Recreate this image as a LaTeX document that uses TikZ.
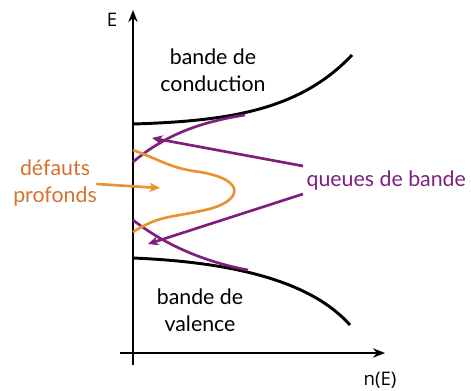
\documentclass[tikz,border=0pt]{standalone}
\usepackage{fontspec}
\setmainfont{Lato}
\newfontfamily\axefont{Open Sans}
\usetikzlibrary{arrows.meta, positioning}
\definecolor{violet}{RGB}{128,30,128}
\definecolor{orangec}{RGB}{232,146,48}
\definecolor{orangetxt}{RGB}{214,112,48}
\tikzset{
  lbl/.style={align=center, font=\fontsize{16}{20}\selectfont, inner sep=1pt},
  axe/.style={line width=2.2pt, -{Stealth[length=9pt,width=7pt]}},
  bord/.style={line width=2.2pt},
  queue/.style={violet, line width=2pt},
  fleche/.style={-{Stealth[length=8pt,width=7pt]}},
}
\begin{document}
\begin{tikzpicture}[x=0.75pt, y=-0.75pt, >=stealth]
        \useasboundingbox (0,0) rectangle (471,390);
        % axes
        \coordinate (o) at (133,365);
        \coordinate (etop) at (133,10);
        \coordinate (ostart) at (120,353);
        \coordinate (nright) at (385,353);
        \draw[axe] (o) -- (etop);
        \draw[axe] (ostart) -- (nright);
        \node[font=\axefont\fontsize{14}{17}\selectfont] (e) at (112,20) {E};
        \node[font=\axefont\fontsize{14}{17}\selectfont] (ne) at (380,380) {n(E)};
        % bandes
        \draw[bord] (133,124) .. controls (230,121) and (300,110) .. (352,55);
        \draw[bord] (133,258) .. controls (230,262) and (310,280) .. (350,325);
        \node[lbl] (bc) at (213,70) {bande de\\conduction};
        \node[lbl] (bv) at (200,310) {bande de\\valence};
        % queues de bande
        \draw[queue] (133,162) .. controls (165,135) and (200,122) .. (245,115);
        \draw[queue] (133,220) .. controls (165,245) and (205,262) .. (248,270);
        \node[lbl, violet, anchor=west] (qb) at (305,180) {queues de bande};
        \coordinate (qh) at (152,138);
        \coordinate (qbas) at (148,244);
        \draw[queue, fleche] (303,166) -- (qh);
        \draw[queue, fleche] (303,194) -- (qbas);
        % defauts profonds
        \draw[orangec, line width=2pt] (133,150) .. controls (165,162) and (170,168) .. (200,172)
              .. controls (248,180) and (242,202) .. (205,210)
              .. controls (170,218) and (160,215) .. (133,232);
        \node[lbl, orangetxt] (dp) at (55,183) {défauts\\profonds};
        \coordinate (dpc) at (160,188);
        \draw[orangec, line width=2pt, fleche] (dp.east) ++(-2,1) -- (dpc);
    \end{tikzpicture}
\end{document}
